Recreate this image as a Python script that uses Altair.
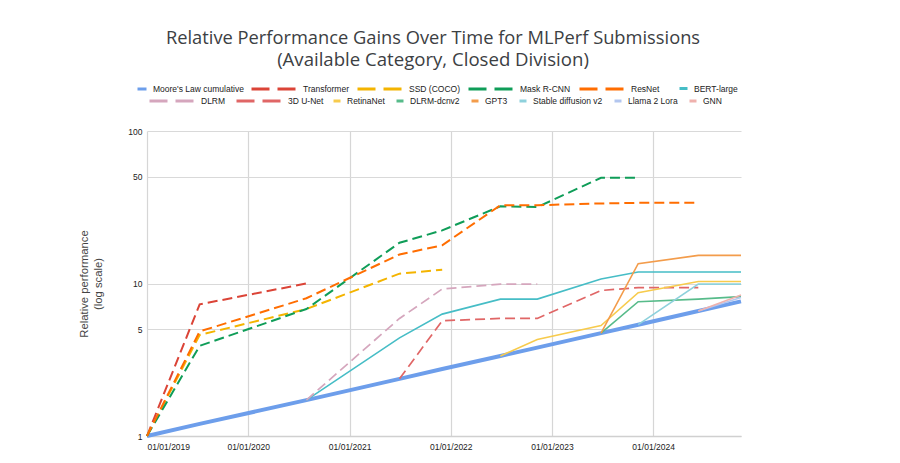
import altair as alt
import pandas as pd

# Submission rounds (x positions of every data point)
dates = ["2019-01-01", "2019-07-10", "2020-07-29", "2021-06-30", "2021-12-01",
         "2022-06-29", "2022-11-09", "2023-06-27", "2023-11-08", "2024-06-12",
         "2024-11-13"]

N = None
moore       = [1.0, 1.2, 1.72, 2.37, 2.75, 3.35, 3.8, 4.73, 5.37, 6.6, 7.64]
transformer = [1.0, 7.3, 10.0, N, N, N, N, N, N, N, N]
ssd         = [1.0, 4.6, 6.8, 11.6, 12.3, N, N, N, N, N, N]
mask_rcnn   = [1.0, 3.9, 6.8, 18.5, 22.3, 32.1, 31.7, 49.3, 49.3, N, N]
resnet      = [1.0, 4.85, 8.0, 15.5, 17.8, 32.6, 32.6, 33.5, 33.8, 33.8, N]
bert_large  = [N, N, 1.72, 4.4, 6.3, 7.9, 7.9, 10.7, 11.9, 11.9, 11.9]
dlrm        = [N, N, 1.72, 5.9, 9.2, 9.9, 9.9, N, N, N, N]
unet3d      = [N, N, N, 2.37, 5.7, 5.9, 5.9, 9.0, 9.4, 9.4, N]
retinanet   = [N, N, N, N, N, 3.35, 4.3, 5.3, 8.7, 10.3, 10.3]
dlrm_dcnv2  = [N, N, N, N, N, N, N, 4.73, 7.6, 7.9, 8.2]
gpt3        = [N, N, N, N, N, N, N, 4.73, 13.5, 15.3, 15.3]
sd_v2       = [N, N, N, N, N, N, N, N, 5.37, 9.9, 9.9]
llama2_lora = [N, N, N, N, N, N, N, N, N, 6.6, 8.1]
gnn         = [N, N, N, N, N, N, N, N, N, 6.6, 8.4]

series_values = {
    "Moore's Law cumulative": moore,
    "Transformer": transformer,
    "SSD (COCO)": ssd,
    "Mask R-CNN": mask_rcnn,
    "ResNet": resnet,
    "BERT-large": bert_large,
    "DLRM": dlrm,
    "3D U-Net": unet3d,
    "RetinaNet": retinanet,
    "DLRM-dcnv2": dlrm_dcnv2,
    "GPT3": gpt3,
    "Stable diffusion v2": sd_v2,
    "Llama 2 Lora": llama2_lora,
    "GNN": gnn,
}

year_ticks = ["2019-01-01", "2020-01-01", "2021-01-01", "2022-01-01",
              "2023-01-01", "2024-01-01"]
y_ticks = [1, 5, 10, 50, 100]

rows = []
for name, vals in series_values.items():
    for d, v in zip(dates, vals):
        if v is not None:
            rows.append({"series": name, "date": d, "value": v})
df = pd.DataFrame(rows)

LABEL_FONT = "Liberation Sans"
DASH = [10, 5]

groups = [
    dict(series=["Moore's Law cumulative"], colors=["#6d9eeb"], dashed=False,
         width=4, lx=-11, ly=-48, ssize=81, cpad=5),
    dict(series=["Transformer", "SSD (COCO)", "Mask R-CNN", "ResNet"],
         colors=["#db4437", "#f4b400", "#0f9d58", "#ff6d01"], dashed=True,
         width=2, lx=103, ly=-66, ssize=2025, cpad=2),
    dict(series=["BERT-large"], colors=["#46bdc6"], dashed=False,
         width=1.6, lx=531, ly=-48, ssize=64, cpad=5),
    dict(series=["DLRM", "3D U-Net"], colors=["#d5a6bd", "#e06666"], dashed=True,
         width=1.7, lx=1, ly=-54, ssize=2025, cpad=4),
    dict(series=["RetinaNet", "DLRM-dcnv2", "GPT3", "Stable diffusion v2",
                 "Llama 2 Lora", "GNN"],
         colors=["#f7cb4d", "#57bb8a", "#f39c4b", "#8ed1dc", "#b3c6ef", "#efb1ad"],
         dashed=False, width=1.6, lx=185, ly=-35, ssize=49, cpad=5),
]

x_enc = alt.X(
    "date:T",
    scale=alt.Scale(domain=[dates[0], dates[-1]]),
    axis=alt.Axis(
        values=year_ticks, format="%m/%d/%Y", title=None,
        labelFont=LABEL_FONT, labelFontSize=8.5, labelColor="#222",
        ticks=False, domain=True, domainColor="#d0d0d0", domainWidth=1.5,
        grid=True, gridColor="#d6d6d6", gridWidth=1.2, labelPadding=6,
        labelAngle=0,
    ),
)
y_enc = alt.Y(
    "value:Q",
    scale=alt.Scale(type="log", domain=[1, 100]),
    axis=alt.Axis(
        values=y_ticks, format="d",
        title=["Relative performance", "(log scale)"],
        titleFont=LABEL_FONT, titleFontSize=11.3, titleFontWeight="normal",
        titleColor="#444", titlePadding=24, titleLineHeight=14,
        labelFont=LABEL_FONT, labelFontSize=8.5, labelColor="#222",
        ticks=False, domain=False, grid=True, gridColor="#d9d9d9",
        gridWidth=1.2, labelPadding=5,
    ),
)

layers = []
for g in groups:
    mark_kwargs = dict(strokeWidth=g["width"], interpolate="linear")
    if g["dashed"]:
        mark_kwargs["strokeDash"] = DASH
    legend_kwargs = dict(
        title=None, orient="none", legendX=g["lx"], legendY=g["ly"],
        direction="horizontal", symbolType="stroke", symbolSize=g["ssize"],
        symbolStrokeWidth=3, labelFont=LABEL_FONT, labelFontSize=8.5,
        labelColor="#222", labelOffset=5, columnPadding=g["cpad"], padding=0,
        labelLimit=0,
    )
    if g["dashed"]:
        legend_kwargs["symbolDash"] = [18, 8]
    layer = (
        alt.Chart(df)
        .transform_filter(alt.FieldOneOfPredicate(field="series", oneOf=g["series"]))
        .mark_line(**mark_kwargs)
        .encode(
            x=x_enc,
            y=y_enc,
            color=alt.Color(
                "series:N",
                scale=alt.Scale(domain=g["series"], range=g["colors"]),
                legend=alt.Legend(**legend_kwargs),
            ),
        )
    )
    layers.append(layer)

chart = (
    alt.layer(*layers)
    .resolve_scale(color="independent")
    .properties(
        width=594,
        height=305,
        padding={"left": 139, "top": 123, "right": 100, "bottom": 20},
        autosize=alt.AutoSizeParams(type="none"),
        title=alt.TitleParams(
            text="Relative Performance Gains Over Time for MLPerf Submissions",
            subtitle="(Available Category, Closed Division)",
            anchor="middle", font="Open Sans", fontSize=18.3, fontWeight="normal",
            color="#3c4043", subtitleFont="Open Sans", subtitleFontSize=18.6,
            subtitleColor="#3c4043", subtitlePadding=3.5, offset=-6, dx=-11,
        ),
    )
    .configure_view(stroke=None)
)

chart.save("out.html", embed_options={"renderer": "svg", "actions": False})
